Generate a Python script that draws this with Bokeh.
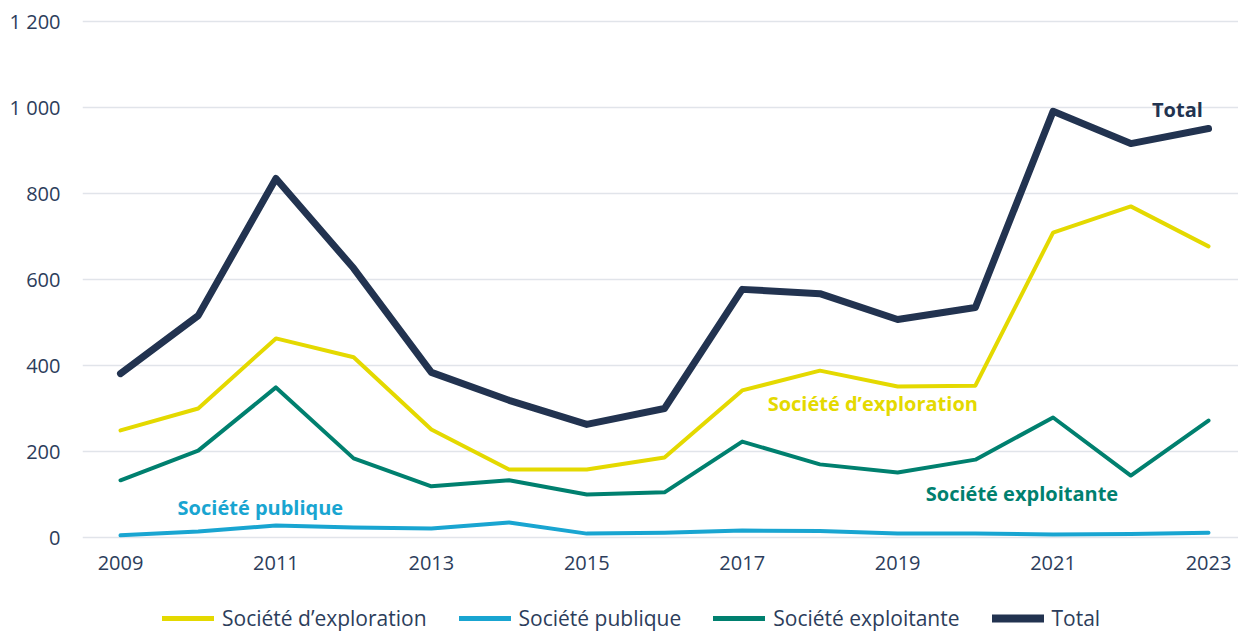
from bokeh.plotting import figure
from bokeh.layouts import column
from bokeh.models import ColumnDataSource, Legend, LegendItem, Label, FixedTicker, Range1d
from bokeh.embed import file_html
from bokeh.resources import INLINE

years = list(range(2009, 2024))
exploration = [249, 300, 463, 419, 251, 158, 158, 186, 342, 388, 351, 353, 709, 770, 677]
publique = [5, 14, 28, 23, 21, 35, 9, 11, 16, 15, 9, 9, 7, 8, 11]
exploitante = [133, 202, 349, 184, 119, 133, 100, 105, 223, 170, 151, 181, 279, 144, 272]
total = [381, 516, 835, 626, 384, 319, 263, 300, 577, 567, 507, 535, 991, 916, 951]

x_ticks = [2009, 2011, 2013, 2015, 2017, 2019, 2021, 2023]
y_ticks = [0, 200, 400, 600, 800, 1000, 1200]
y_tick_labels = {1000: "1 000", 1200: "1 200"}

names = ["Société d\u2019exploration", "Société publique", "Société exploitante", "Total"]
series_cols = ["exploration", "publique", "exploitante", "total"]
colors = ["#e4d900", "#19a5d1", "#00806f", "#223350"]
widths = [4, 4, 4, 7]

FONT = "Open Sans"
TXT = "#2c3d5b"

src = ColumnDataSource(dict(year=years, exploration=exploration, publique=publique,
                            exploitante=exploitante, total=total))

# ---- main chart ----
p = figure(width=1238, height=588, output_backend="svg", toolbar_location=None,
           x_range=Range1d(2008.511, 2023.386), y_range=Range1d(-23.3, 1248.8),
           min_border_left=82, min_border_right=0, min_border_top=0, min_border_bottom=41)
p.outline_line_color = None
p.background_fill_color = "white"
p.border_fill_color = "white"

for col, c, w in zip(series_cols, colors, widths):
    p.line("year", col, source=src, line_color=c, line_width=w,
           line_join="round", line_cap="round")

p.xgrid.grid_line_color = None
p.ygrid.grid_line_color = "#e1e4ea"
p.ygrid.grid_line_width = 1.5

p.xaxis.ticker = FixedTicker(ticks=x_ticks)
p.yaxis.ticker = FixedTicker(ticks=y_ticks)
p.yaxis.major_label_overrides = y_tick_labels
for ax in (p.xaxis[0], p.yaxis[0]):
    ax.axis_line_color = None
    ax.major_tick_line_color = None
    ax.minor_tick_line_color = None
    ax.major_tick_in = 0
    ax.major_tick_out = 0
    ax.major_label_text_font = FONT
    ax.major_label_text_font_size = "20px"
    ax.major_label_text_color = TXT
p.xaxis.major_label_standoff = 8
p.yaxis.major_label_standoff = 22

labels = [
    ("Total", 2022.6, 996, colors[3]),
    ("Société d\u2019exploration", 2018.68, 312, colors[0]),
    ("Société exploitante", 2020.6, 103, colors[2]),
    ("Société publique", 2010.8, 70, colors[1]),
]
for t, x, y, c in labels:
    p.add_layout(Label(x=x, y=y, text=t, text_align="center", text_baseline="middle",
                       text_font=FONT, text_font_style="bold", text_font_size="20px",
                       text_color=c))

# ---- legend strip (same series, drawn outside its visible range) ----
p2 = figure(width=1238, height=44, output_backend="svg", toolbar_location=None,
            x_range=Range1d(2008.511, 2023.386), y_range=Range1d(5000, 6000),
            x_axis_location=None, y_axis_location=None,
            min_border_left=0, min_border_right=0, min_border_top=0, min_border_bottom=0)
p2.outline_line_color = None
p2.grid.visible = False
p2.background_fill_color = "white"
p2.border_fill_color = "white"

leg_renderers = []
for col, c, w in zip(series_cols, colors, widths):
    r = p2.line("year", col, source=src, line_color=c, line_width=w + 1,
                line_join="round", line_cap="round")
    leg_renderers.append(r)

legend = Legend(items=[LegendItem(label=n, renderers=[r]) for n, r in zip(names, leg_renderers)],
                orientation="horizontal", location=(80, 0))
legend.border_line_color = None
legend.background_fill_alpha = 0
legend.label_text_font = FONT
legend.label_text_font_size = "21px"
legend.label_text_color = TXT
legend.glyph_width = 52
legend.label_standoff = 8
legend.spacing = 32
legend.padding = 0
legend.margin = 0
p2.add_layout(legend, "center")

layout = column(p, p2, spacing=0)
open("out.html", "w").write(file_html(layout, INLINE))
